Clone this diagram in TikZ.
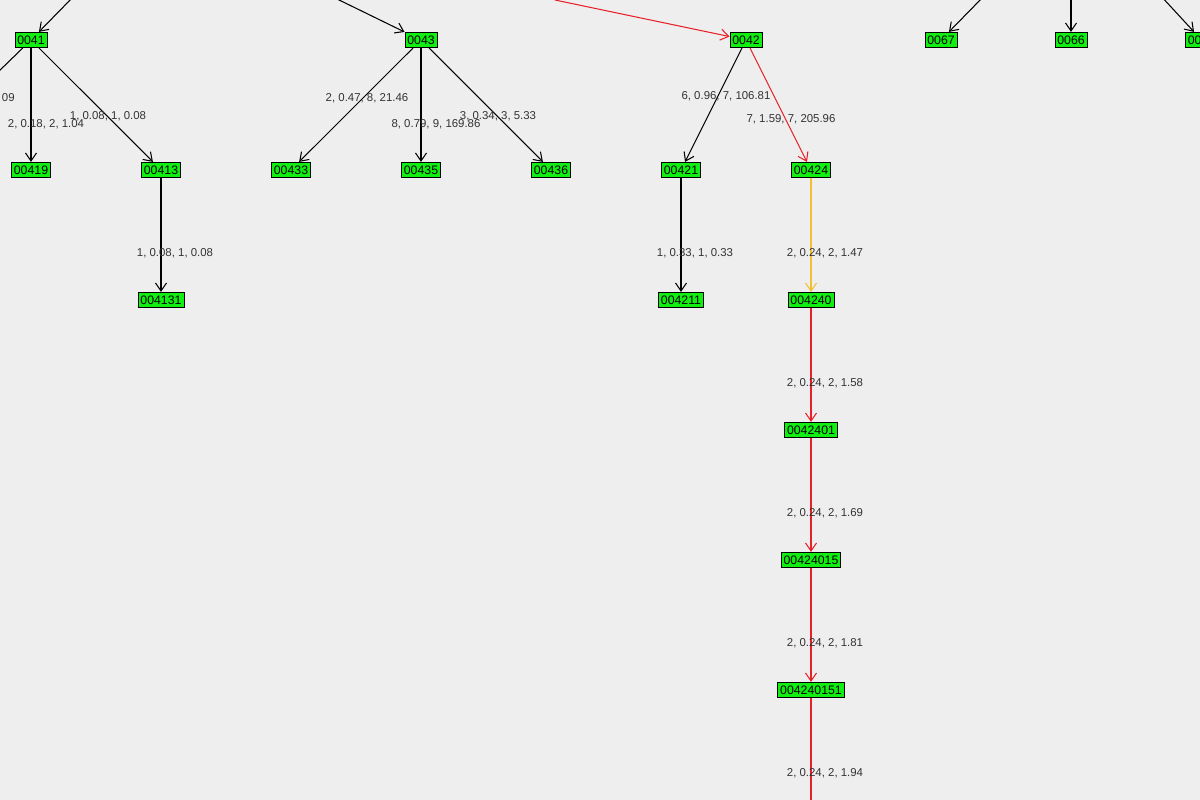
\documentclass[tikz,border=0pt]{standalone}
\usepackage{fontspec}
\setmainfont{Liberation Sans}
\usetikzlibrary{arrows.meta}
\definecolor{bg}{HTML}{EEEEEE}
\definecolor{nodegreen}{HTML}{11EE11}
\definecolor{edgered}{HTML}{E8202A}
\definecolor{edgegold}{HTML}{F0C030}
\definecolor{labgray}{HTML}{333333}
\tikzset{
  vert/.style={rectangle, draw, fill=nodegreen, inner sep=1.4pt, minimum height=0.31cm, font=\fontsize{7}{8}\selectfont},
  link/.style={line width=0.6pt, -{Straight Barb[length=1.6mm,width=2.2mm]}},
  lab/.style={text=labgray, font=\fontsize{6.5}{7}\selectfont, inner sep=0pt}
}
\begin{document}
\begin{tikzpicture}[x=0.02cm,y=-0.02cm]
\useasboundingbox[fill=bg] (0,0) rectangle (1200,800);
% top row
\node[vert] (0041) at (31,40) {0041};
\node[vert] (0043) at (421,40) {0043};
\node[vert] (0042) at (746,40) {0042};
\node[vert] (0067) at (941,40) {0067};
\node[vert] (0066) at (1071,40) {0066};
\node[vert, anchor=west] (0065) at (1185,40) {0065};
% second row
\foreach \n/\x in {00419/31, 00413/161, 00433/291, 00435/421, 00436/551, 00421/681, 00424/811}
  \node[vert] (\n) at (\x,170) {\n};
% third row
\foreach \n/\x in {004131/161, 004211/681, 004240/811}
  \node[vert] (\n) at (\x,300) {\n};
\node[vert] (0042401) at (811,430) {0042401};
\node[vert] (00424015) at (811,560) {00424015};
\node[vert] (004240151) at (811,690) {004240151};
% free ends
\coordinate (in41) at (75,-5);
\coordinate (in43) at (335,-2);
\coordinate (in42) at (555,0);
\coordinate (in67) at (985,-5);
\coordinate (in66) at (1071,-5);
\coordinate (in65) at (1160,-5);
\coordinate (out41) at (-5,75);
\coordinate (out151) at (811,805);
% edges
\draw[link] (in41) -- (0041);
\draw[link] (in43) -- (0043);
\draw[link, draw=edgered] (in42) -- (0042);
\draw[link] (in67) -- (0067);
\draw[link] (in66) -- (0066);
\draw[link] (in65) -- (0065);
\draw[line width=0.6pt] (0041) -- (out41);
\foreach \a/\b in {0041/00419, 0041/00413, 00413/004131, 0043/00433, 0043/00435, 0043/00436, 0042/00421, 00421/004211}
  \draw[link] (\a) -- (\b);
\draw[link, draw=edgered] (0042) -- (00424);
\draw[link, draw=edgegold] (00424) -- (004240);
\draw[link, draw=edgered] (004240) -- (0042401);
\draw[link, draw=edgered] (0042401) -- (00424015);
\draw[link, draw=edgered] (00424015) -- (004240151);
\draw[line width=0.6pt, draw=edgered] (004240151) -- (out151);
% labels
\node[lab, anchor=east] (l0) at (15,98) {09};
\node[lab] (l1) at (46,124) {2, 0.18, 2, 1.04};
\node[lab] (l2) at (108,116) {1, 0.08, 1, 0.08};
\node[lab] (l3) at (175,253) {1, 0.08, 1, 0.08};
\node[lab] (l4) at (367,98) {2, 0.47, 8, 21.46};
\node[lab] (l5) at (436,124) {8, 0.79, 9, 169.86};
\node[lab] (l6) at (498,116) {3, 0.34, 3, 5.33};
\node[lab] (l7) at (726,96) {6, 0.96, 7, 106.81};
\node[lab] (l8) at (791,119) {7, 1.59, 7, 205.96};
\node[lab] (l9) at (695,253) {1, 0.33, 1, 0.33};
\foreach \v/\y in {1.47/253, 1.58/383, 1.69/513, 1.81/643, 1.94/773}
  \node[lab] at (825,\y) {2, 0.24, 2, \v};
\end{tikzpicture}
\end{document}
